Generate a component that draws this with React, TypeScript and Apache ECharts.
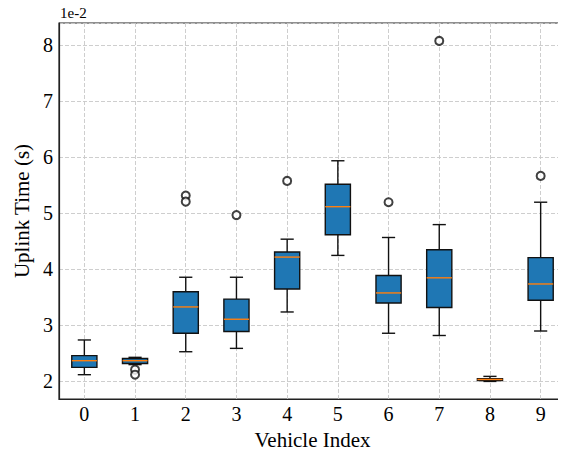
import React, { useEffect, useRef } from 'react';
import * as echarts from 'echarts';

// values in units of 1e-2 s
const categories = ['0', '1', '2', '3', '4', '5', '6', '7', '8', '9'];
const whiskerLow = [2.12, 2.30, 2.53, 2.59, 3.24, 4.25, 2.86, 2.82, 2.00, 2.90];
const q1 = [2.25, 2.32, 2.86, 2.89, 3.65, 4.62, 3.40, 3.32, 2.015, 3.45];
const median = [2.37, 2.37, 3.33, 3.11, 4.22, 5.12, 3.58, 3.85, 2.035, 3.74];
const q3 = [2.46, 2.41, 3.60, 3.47, 4.31, 5.52, 3.89, 4.35, 2.05, 4.21];
const whiskerHigh = [2.74, 2.43, 3.86, 3.86, 4.54, 5.94, 4.57, 4.80, 2.09, 5.20];
const outlierIndex = [1, 1, 2, 2, 3, 4, 6, 7, 9];
const outlierValue = [2.21, 2.12, 5.32, 5.21, 4.97, 5.58, 5.20, 8.08, 5.67];

const FONT = 'Liberation Serif';
const GRID_COLOR = '#c8c8c8';

export default function App() {
  const ref = useRef<HTMLDivElement>(null);

  useEffect(() => {
    if (!ref.current) return;
    const chart = echarts.init(ref.current, undefined, { renderer: 'svg' });

    const boxData = categories.map((_, i) => [
      i,
      whiskerLow[i],
      q1[i],
      median[i],
      q3[i],
      whiskerHigh[i],
    ]);
    const outliers = outlierIndex.map((idx, k) => [idx, outlierValue[k]]);

    const option: any = {
      animation: false,
      backgroundColor: '#ffffff',
      textStyle: { fontFamily: FONT },
      grid: {
        left: 59,
        top: 23,
        right: -1,
        bottom: 53,
        show: true,
        borderColor: '#222',
        borderWidth: 1.2,
        backgroundColor: 'transparent',
      },
      graphic: [
        {
          type: 'text',
          left: 60,
          top: 5,
          style: { text: '1e-2', fontFamily: FONT, fontSize: 15, fill: '#000' },
        },
      ],
      xAxis: {
        type: 'category',
        data: categories,
        boundaryGap: true,
        name: 'Vehicle Index',
        nameLocation: 'middle',
        nameGap: 30,
        nameTextStyle: { fontFamily: FONT, fontSize: 21, color: '#000' },
        axisLine: { lineStyle: { color: '#222', width: 1.2 } },
        axisTick: { inside: true, alignWithLabel: true, length: 4, lineStyle: { color: '#222' } },
        axisLabel: { fontFamily: FONT, fontSize: 20, color: '#000', margin: 5 },
        splitLine: { show: false },
      },
      yAxis: {
        type: 'value',
        min: 1.686,
        max: 8.4,
        splitNumber: 6,
        name: 'Uplink Time (s)',
        nameLocation: 'middle',
        nameGap: 22,
        nameTextStyle: { fontFamily: FONT, fontSize: 21, color: '#000' },
        axisLine: { show: true, lineStyle: { color: '#222', width: 1.2 } },
        axisTick: { inside: true, length: 4, lineStyle: { color: '#222' } },
        axisLabel: {
          fontFamily: FONT,
          fontSize: 20,
          color: '#000',
          margin: 6,
          showMinLabel: false,
          showMaxLabel: false,
          formatter: (v: number) => (Math.abs(v - Math.round(v)) < 1e-9 ? String(Math.round(v)) : ''),
        },
        splitLine: { show: true, lineStyle: { color: GRID_COLOR, type: [4, 2], width: 0.9 } },
      },
      series: [
        {
          type: 'line',
          data: [],
          z: 1,
          silent: true,
          markLine: {
            z: 1,
            silent: true,
            symbol: ['none', 'none'],
            label: { show: false },
            lineStyle: { color: GRID_COLOR, type: [4, 2], width: 0.9 },
            emphasis: { disabled: true },
            data: categories.map((c) => ({ xAxis: c })),
          },
        },
        {
          type: 'custom',
          z: 3,
          silent: true,
          encode: { x: 0, y: [1, 2, 3, 4, 5] },
          data: boxData,
          renderItem: (params: any, api: any) => {
            const i = api.value(0);
            const lo = api.coord([i, api.value(1)]);
            const b1 = api.coord([i, api.value(2)]);
            const md = api.coord([i, api.value(3)]);
            const b3 = api.coord([i, api.value(4)]);
            const hi = api.coord([i, api.value(5)]);
            const band = api.size([1, 0])[0];
            const half = band * 0.248;
            const cap = band * 0.13;
            const cx = md[0];
            const ls = { stroke: '#111', lineWidth: 1.4 };
            return {
              type: 'group',
              children: [
                { type: 'line', shape: { x1: cx, y1: lo[1], x2: cx, y2: b1[1] }, style: ls },
                { type: 'line', shape: { x1: cx, y1: b3[1], x2: cx, y2: hi[1] }, style: ls },
                { type: 'line', shape: { x1: cx - cap, y1: lo[1], x2: cx + cap, y2: lo[1] }, style: ls },
                { type: 'line', shape: { x1: cx - cap, y1: hi[1], x2: cx + cap, y2: hi[1] }, style: ls },
                {
                  type: 'rect',
                  shape: { x: cx - half, y: b3[1], width: 2 * half, height: b1[1] - b3[1] },
                  style: { fill: '#1f77b4', stroke: '#111', lineWidth: 1.4 },
                },
                {
                  type: 'line',
                  shape: { x1: cx - half, y1: md[1], x2: cx + half, y2: md[1] },
                  style: { stroke: '#ff7f0e', lineWidth: 1.4 },
                },
              ],
            };
          },
        },
        {
          type: 'scatter',
          z: 4,
          silent: true,
          symbol: 'emptyCircle',
          symbolSize: 8,
          itemStyle: { color: '#111', borderWidth: 1.3 },
          data: outliers,
        },
      ],
    };

    chart.setOption(option);
    return () => chart.dispose();
  }, []);

  return <div ref={ref} style={{ width: 566, height: 455, margin: -8 }} />;
}
